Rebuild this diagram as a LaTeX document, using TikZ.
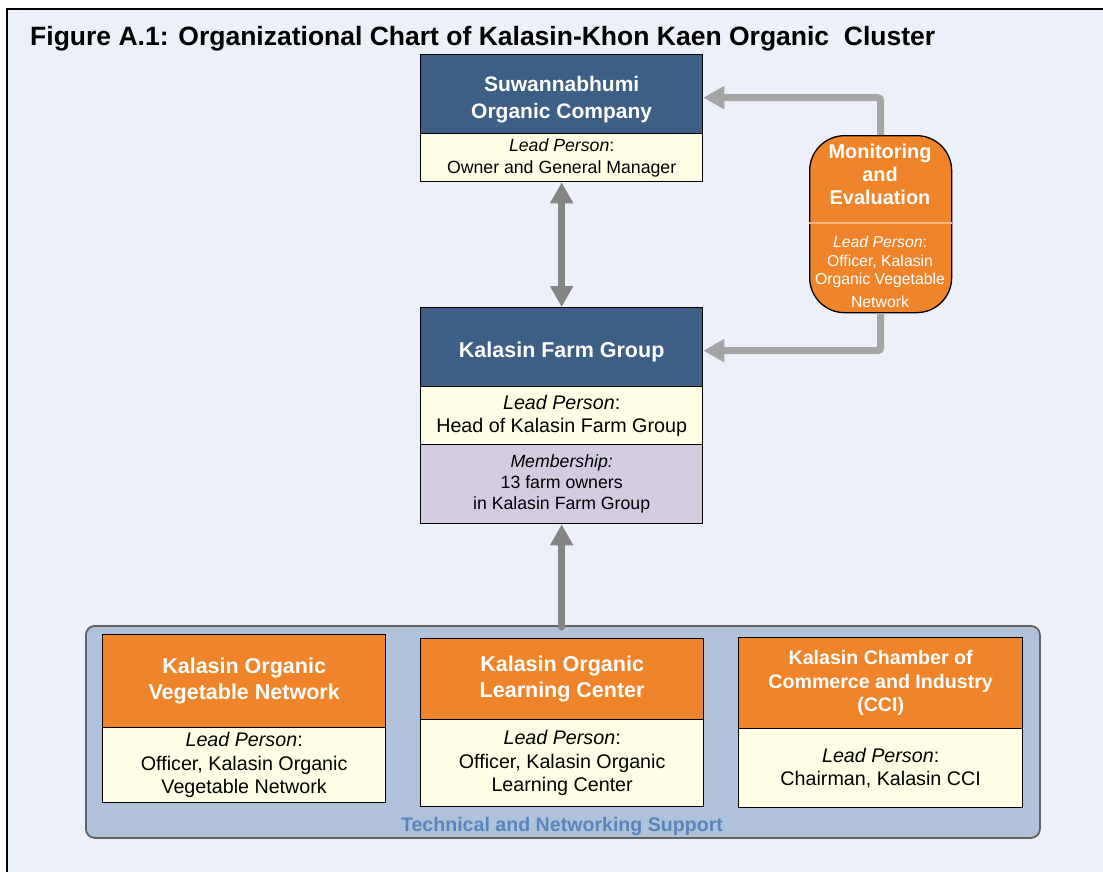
\documentclass[tikz,border=0pt]{standalone}
\usepackage{fontspec}
\setmainfont{Liberation Sans}
\usetikzlibrary{arrows.meta,calc}
\definecolor{bgc}{HTML}{ECF0F8}
\definecolor{bluec}{HTML}{3D5E85}
\definecolor{yelc}{HTML}{FFFFE6}
\definecolor{purc}{HTML}{D3CBE0}
\definecolor{orc}{HTML}{F0842A}
\definecolor{contc}{HTML}{B0C2DA}
\definecolor{contb}{HTML}{636363}
\definecolor{labc}{HTML}{5A84BD}
\definecolor{arlight}{HTML}{A5A5A5}
\definecolor{ardark}{HTML}{858585}
\definecolor{divc}{HTML}{F8B584}
\begin{document}
\begin{tikzpicture}[x=1pt,y=-1pt,
  sect/.style={draw=black,line width=1.3pt,anchor=north west,inner sep=0pt,align=center},
  bluesect/.style={sect,fill=bluec},
  bluetext/.style={text=white,inner sep=0pt,align=center,font=\bfseries\fontsize{21.5}{27}\selectfont},
  orsect/.style={sect,fill=orc,text=white,font=\bfseries\fontsize{21.5}{26}\selectfont},
  yelsect/.style={sect,fill=yelc,text=black,font=\fontsize{19.7}{23.5}\selectfont},
  pursect/.style={sect,fill=purc,text=black,font=\fontsize{17.7}{21}\selectfont},
  bigarrow/.style={line width=7pt,draw=arlight,rounded corners=3pt,-{Triangle[length=21pt,width=22pt]}},
  darkarrow/.style={line width=7pt,draw=ardark}
]
\useasboundingbox (0,0) rectangle (1103,871);
\fill[white] (0,0) rectangle (1103,871);
\draw[fill=bgc,line width=1.3pt] (7,9) rectangle (1115,885);
\node[anchor=base west,inner sep=0pt,font=\bfseries\fontsize{26.5}{30}\selectfont] (title) at (30,45) {Figure A.1: Organizational Chart of Kalasin-Khon Kaen Organic~ Cluster};

% top box
\node[bluesect,minimum width=282,minimum height=79] (suwT) at (420,54) {};
\node[bluetext,font=\bfseries\fontsize{21}{27}\selectfont] (suwTt) at ([yshift=-5pt]suwT.center) {Suwannabhumi\\Organic Company};
\node[yelsect,font=\fontsize{17.7}{22}\selectfont,minimum width=282,minimum height=48] (suwY) at (420,133) {\textit{Lead Person}:\\Owner and General Manager};

% farm group
\node[bluesect,minimum width=282,minimum height=79] (farmB) at (420,307) {};
\node[bluetext] (farmBt) at ([yshift=-5pt]farmB.center) {Kalasin Farm Group};
\node[yelsect,minimum width=282,minimum height=58] (farmY) at (420,386) {\textit{Lead Person}:\\Head of Kalasin Farm Group};
\node[pursect,minimum width=282,minimum height=79] (farmP) at (420,444) {\textit{Membership:}\\13 farm owners\\in Kalasin Farm Group};

% monitoring
\node[draw=black,line width=1.3pt,fill=orc,rounded corners=35pt,minimum width=142,minimum height=177,anchor=north west,inner sep=0pt] (mon) at (809,135) {};
\draw[divc,line width=1.5pt] (mon.west |- 0,223) -- (mon.east |- 0,223);
\node[text=white,align=center,font=\bfseries\fontsize{19.9}{23}\selectfont,inner sep=0pt] (monT) at (880,174) {Monitoring\\and\\Evaluation};
\node[text=white,align=center,font=\fontsize{15.8}{18.5}\selectfont,inner sep=0pt] (monL) at (880,262) {\textit{Lead Person}:\\Officer, Kalasin\\Organic Vegetable};
\node[text=white,font=\fontsize{15.8}{18}\selectfont,inner sep=0pt] (monN) at (880,302) {Network};

% support container
\node[draw=contb,line width=1.8pt,fill=contc,rounded corners=9pt,minimum width=954,minimum height=212,anchor=north west,inner sep=0pt] (cont) at (85,625) {};
\node[text=labc,font=\bfseries\fontsize{19.6}{22}\selectfont,inner sep=0pt] (contL) at (562,826) {Technical and Networking Support};

% box 1
\node[orsect,minimum width=283,minimum height=93] (b1T) at (102,634) {Kalasin Organic\\Vegetable Network};
\node[yelsect,minimum width=283,minimum height=75] (b1Y) at (102,727) {\textit{Lead Person}:\\Officer, Kalasin Organic\\Vegetable Network};
% box 2
\node[orsect,minimum width=283,minimum height=81] (b2T) at (420,638) {Kalasin Organic\\Learning Center};
\node[yelsect,minimum width=283,minimum height=87] (b2Y) at (420,719) {\textit{Lead Person}:\\Officer, Kalasin Organic\\Learning Center};
% box 3
\node[orsect,font=\bfseries\fontsize{19.6}{23.5}\selectfont,minimum width=284,minimum height=91] (b3T) at (738,637) {Kalasin Chamber of\\Commerce and Industry\\(CCI)};
\node[yelsect,minimum width=284,minimum height=79] (b3Y) at (738,728) {\textit{Lead Person}:\\Chairman, Kalasin CCI};

% arrows
\draw[darkarrow,{Triangle[length=21pt,width=22pt]}-{Triangle[length=21pt,width=22pt]}] (suwY.south) -- (farmB.north);
\draw[darkarrow,line cap=round,-{Triangle[length=21pt,width=22pt]}] ([yshift=-2pt]farmP.south |- cont.north) -- (farmP.south);
\draw[bigarrow] (mon.north) |- ([yshift=-3.5pt]suwT.east);
\draw[bigarrow] (mon.south) |- ([yshift=-3.5pt]farmB.east);
\end{tikzpicture}
\end{document}
